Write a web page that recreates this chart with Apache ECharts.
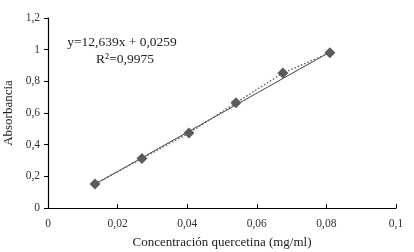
<!DOCTYPE html>
<html>
<head>
<meta charset="utf-8">
<script src="https://cdn.jsdelivr.net/npm/echarts@6/dist/echarts.min.js"></script>
<style>
  html, body { margin: 0; padding: 0; background: #fff; }
  #chart { width: 414px; height: 252px; }
</style>
</head>
<body>
<div id="chart"></div>
<script>
// concentraciones (mg/ml) y absorbancias
var concentracion = [0.0135, 0.027, 0.0405, 0.054, 0.0675, 0.081];
var absorbancia = [0.152, 0.313, 0.474, 0.664, 0.853, 0.98];
// linea de tendencia (extremos)
var tendenciaX = [0.0135, 0.081];
var tendenciaY = [0.15, 0.985];
var ecuacion = ['y=12,639x + 0,0259', 'R²=0,9975'];

var fmt = function (v) {
  return String(+v.toFixed(2)).replace('.', ',');
};
var serif = '"Liberation Serif", "DejaVu Serif", serif';

var chart = echarts.init(document.getElementById('chart'));
var option = {
  backgroundColor: '#fff',
  animation: false,
  grid: { left: 48, right: 18, top: 18, bottom: 44, outerBoundsMode: 'none', containLabel: false },
  xAxis: {
    type: 'value',
    min: 0, max: 0.1, interval: 0.02,
    name: 'Concentración quercetina (mg/ml)',
    nameLocation: 'middle',
    nameGap: 28,
    nameTextStyle: { color: '#222', fontFamily: serif, fontSize: 13 },
    axisLine: { lineStyle: { color: '#000', width: 1.2 } },
    axisTick: { inside: true, length: 4, lineStyle: { color: '#000' } },
    axisLabel: { color: '#333', fontFamily: serif, fontSize: 11.5, margin: 10, formatter: fmt },
    splitLine: { show: false }
  },
  yAxis: {
    type: 'value',
    min: 0, max: 1.2, interval: 0.2,
    name: 'Absorbancia',
    nameLocation: 'middle',
    nameGap: 29,
    nameTextStyle: { color: '#222', fontFamily: serif, fontSize: 13 },
    axisLine: { show: true, lineStyle: { color: '#000', width: 1.2 } },
    axisTick: { show: true, length: 4, lineStyle: { color: '#000' } },
    axisLabel: { color: '#333', fontFamily: serif, fontSize: 11.5, margin: 8, formatter: fmt },
    splitLine: { show: false }
  },
  graphic: [{
    type: 'text',
    x: 122, y: 42,
    style: {
      text: ecuacion[0],
      fontFamily: serif, fontSize: 13.5, fill: '#222',
      textAlign: 'center', textVerticalAlign: 'middle'
    }
  }, {
    type: 'text',
    x: 125, y: 59,
    style: {
      text: ecuacion[1],
      fontFamily: serif, fontSize: 13.5, fill: '#222',
      textAlign: 'center', textVerticalAlign: 'middle'
    }
  }],
  series: [{
    type: 'line',
    data: tendenciaX.map(function (x, i) { return [x, tendenciaY[i]]; }),
    symbol: 'none',
    lineStyle: { color: '#444', width: 1 },
    z: 2
  }, {
    type: 'line',
    data: concentracion.map(function (x, i) { return [x, absorbancia[i]]; }),
    symbol: 'diamond',
    symbolSize: 11,
    itemStyle: { color: '#5a5a5a' },
    lineStyle: { color: '#666', width: 1.5, type: [1.5, 2] },
    z: 3
  }]
};
chart.setOption(option);
</script>
</body>
</html>
